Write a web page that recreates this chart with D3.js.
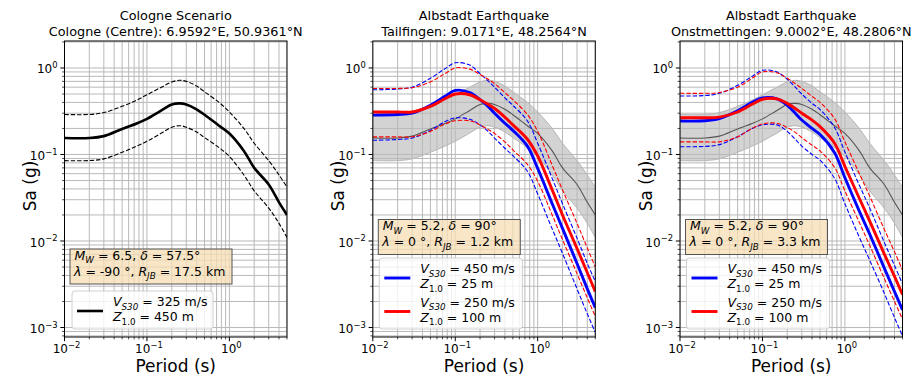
<!DOCTYPE html>
<html><head><meta charset="utf-8">
<script src="https://cdn.jsdelivr.net/npm/d3@7"></script>
<style>body{margin:0;background:#fff}svg{display:block}text{font-family:"DejaVu Sans",sans-serif;fill:#000}</style>
</head><body><svg id="c" width="917" height="379"></svg>
<script>
// ---------------- data ----------------
const periods = [0.01, 0.02, 0.03, 0.05, 0.075, 0.1, 0.15, 0.2, 0.25, 0.3, 0.4, 0.5, 0.75, 1, 1.5, 2, 3, 4, 5];

// Cologne scenario (black in panel 1, grey reference band in panels 2 and 3)
const cologneMed = [0.155, 0.155, 0.163, 0.197, 0.228, 0.258, 0.323, 0.378, 0.39, 0.378, 0.333, 0.288, 0.215, 0.175, 0.11, 0.07, 0.045, 0.028, 0.02];
const cologneUp  = [0.29, 0.29, 0.305, 0.36, 0.425, 0.49, 0.60, 0.69, 0.72, 0.70, 0.62, 0.53, 0.40, 0.31, 0.20, 0.135, 0.085, 0.058, 0.042];
const cologneLo  = [0.085, 0.085, 0.089, 0.106, 0.125, 0.142, 0.177, 0.207, 0.215, 0.207, 0.182, 0.157, 0.12, 0.095, 0.058, 0.038, 0.024, 0.016, 0.011];

// Tailfingen
const tfBlueMed = [0.285, 0.29, 0.30, 0.37, 0.47, 0.55, 0.52, 0.43, 0.36, 0.30, 0.23, 0.19, 0.125, 0.069, 0.027, 0.014, 0.0055, 0.0028, 0.0017];
const tfBlueUp  = [0.56, 0.57, 0.60, 0.76, 0.98, 1.15, 1.08, 0.86, 0.71, 0.60, 0.45, 0.37, 0.245, 0.135, 0.053, 0.027, 0.0108, 0.0055, 0.0034];
const tfBlueLo  = [0.146, 0.149, 0.155, 0.19, 0.24, 0.265, 0.255, 0.22, 0.185, 0.155, 0.118, 0.097, 0.064, 0.035, 0.0138, 0.0072, 0.0028, 0.00144, 0.00088];
const tfRedMed  = [0.31, 0.31, 0.31, 0.36, 0.44, 0.50, 0.49, 0.43, 0.38, 0.34, 0.27, 0.22, 0.15, 0.096, 0.039, 0.020, 0.0082, 0.0043, 0.0026];
const tfRedUp   = [0.58, 0.58, 0.59, 0.69, 0.86, 1.0, 0.97, 0.84, 0.74, 0.66, 0.52, 0.43, 0.29, 0.185, 0.075, 0.039, 0.016, 0.0083, 0.005];
const tfRedLo   = [0.16, 0.16, 0.16, 0.185, 0.225, 0.245, 0.245, 0.22, 0.195, 0.175, 0.14, 0.113, 0.077, 0.049, 0.02, 0.0104, 0.0042, 0.0022, 0.00134];

// Onstmettingen
const onBlueMed = [0.244, 0.245, 0.26, 0.32, 0.40, 0.45, 0.44, 0.37, 0.30, 0.25, 0.20, 0.17, 0.105, 0.054, 0.022, 0.012, 0.0049, 0.0026, 0.0016];
const onBlueUp  = [0.475, 0.48, 0.51, 0.63, 0.80, 0.94, 0.90, 0.74, 0.60, 0.50, 0.39, 0.33, 0.205, 0.107, 0.044, 0.024, 0.0097, 0.0052, 0.0032];
const onBlueLo  = [0.123, 0.124, 0.13, 0.16, 0.20, 0.22, 0.22, 0.185, 0.15, 0.125, 0.10, 0.086, 0.053, 0.027, 0.011, 0.006, 0.0025, 0.0013, 0.0008];
const onRedMed  = [0.266, 0.266, 0.27, 0.31, 0.38, 0.435, 0.44, 0.39, 0.34, 0.30, 0.25, 0.21, 0.135, 0.073, 0.031, 0.017, 0.0071, 0.0039, 0.0024];
const onRedUp   = [0.51, 0.51, 0.52, 0.60, 0.76, 0.90, 0.88, 0.76, 0.66, 0.58, 0.47, 0.40, 0.26, 0.14, 0.06, 0.033, 0.0137, 0.0075, 0.0046];
const onRedLo   = [0.14, 0.14, 0.14, 0.16, 0.20, 0.225, 0.23, 0.205, 0.18, 0.157, 0.128, 0.11, 0.071, 0.038, 0.0163, 0.0089, 0.0037, 0.002, 0.00125];

const xTickVals = [0.01, 0.1, 1];
const xTickExps = ["−2", "−1", "0"];
const yTickVals = [0.001, 0.01, 0.1, 1];
const yTickExps = ["−3", "−2", "−1", "0"];

const titles = [
  ["Cologne Scenario", "Cologne (Centre): 6.9592°E, 50.9361°N"],
  ["Albstadt Earthquake", "Tailfingen: 9.0171°E, 48.2564°N"],
  ["Albstadt Earthquake", "Onstmettingen: 9.0002°E, 48.2806°N"]
];
const scenarioText = [
  { mw: "6.5", dip: "57.5", rake: "-90", rjb: "17.5" },
  { mw: "5.2", dip: "90", rake: "0", rjb: "1.2" },
  { mw: "5.2", dip: "90", rake: "0", rjb: "3.3" }
];
const siteLabels = [
  [{ vs: "325", z: "450" }],
  [{ vs: "450", z: "25" }, { vs: "250", z: "100" }],
  [{ vs: "450", z: "25" }, { vs: "250", z: "100" }]
];

// ---------------- layout ----------------
const svg = d3.select("#c");
const plotTop = 41, plotBottom = 337, plotW = 222.5;
const panelLeft = [64.5, 372.8, 680];
const yScale = d3.scaleLog().domain([7.77e-4, 2.05]).range([plotBottom, plotTop]);
const GRID = "#b9b9b9";

function rich(g, x, y, segs, size, anchor) {
  const t = g.append("text").attr("x", x).attr("y", y).attr("font-size", size)
    .attr("text-anchor", anchor || "start");
  let off = 0;
  segs.forEach(s => {
    const sp = t.append("tspan").text(s.t);
    let target = 0;
    if (s.sub) target = size * 0.28;
    if (s.sup) target = -size * 0.42;
    if (target !== off) { sp.attr("dy", target - off); off = target; }
    if (s.sub || s.sup) sp.attr("font-size", size * 0.7);
    if (s.i) sp.attr("font-style", "italic");
  });
  return t;
}

function minorVals(lo, hi) {
  const out = [];
  for (let e = -4; e <= 1; e++) for (let m = 1; m <= 9; m++) {
    const v = m * Math.pow(10, e);
    if (v >= lo * 0.9999 && v <= hi * 1.0001) out.push(v);
  }
  return out;
}

panelLeft.forEach((x0, pi) => {
  const xScale = d3.scaleLog().domain([0.01, 5]).range([x0, x0 + plotW]);
  const g = svg.append("g");
  const clipId = "clip" + pi;
  svg.append("clipPath").attr("id", clipId).append("rect")
    .attr("x", x0).attr("y", plotTop).attr("width", plotW).attr("height", plotBottom - plotTop);
  const plot = g.append("g").attr("clip-path", `url(#${clipId})`);

  const curve = d3.curveCatmullRom.alpha(0.5);
  const line = arr => d3.line().x((d, i) => xScale(periods[i])).y(d => yScale(d)).curve(curve)(arr);

  // grey reference band (panels 2, 3)
  if (pi > 0) {
    const area = d3.area().x((d, i) => xScale(periods[i]))
      .y0((d, i) => yScale(cologneLo[i])).y1(d => yScale(d)).curve(curve);
    plot.append("path").attr("d", area(cologneUp)).attr("fill", "#d3d3d3")
      .attr("stroke", "#a8a8a8").attr("stroke-width", 0.8);
  }

  // grid
  const xs = minorVals(0.01, 5), ys = minorVals(7.77e-4, 2.05);
  xs.forEach(v => plot.append("line").attr("x1", xScale(v)).attr("x2", xScale(v))
    .attr("y1", plotTop).attr("y2", plotBottom).attr("stroke", GRID).attr("stroke-width", 1));
  ys.forEach(v => plot.append("line").attr("y1", yScale(v)).attr("y2", yScale(v))
    .attr("x1", x0).attr("x2", x0 + plotW).attr("stroke", GRID).attr("stroke-width", 1));

  // curves
  const dash = "4.4,1.9";
  if (pi === 0) {
    plot.append("path").attr("d", line(cologneUp)).attr("fill", "none").attr("stroke", "#000").attr("stroke-width", 1.1).attr("stroke-dasharray", dash);
    plot.append("path").attr("d", line(cologneLo)).attr("fill", "none").attr("stroke", "#000").attr("stroke-width", 1.1).attr("stroke-dasharray", dash);
    plot.append("path").attr("d", line(cologneMed)).attr("fill", "none").attr("stroke", "#000").attr("stroke-width", 2.6);
  } else {
    plot.append("path").attr("d", line(cologneMed)).attr("fill", "none").attr("stroke", "#555").attr("stroke-width", 1.1);
    const S = pi === 1
      ? { bm: tfBlueMed, bu: tfBlueUp, bl: tfBlueLo, rm: tfRedMed, ru: tfRedUp, rl: tfRedLo }
      : { bm: onBlueMed, bu: onBlueUp, bl: onBlueLo, rm: onRedMed, ru: onRedUp, rl: onRedLo };
    [[S.bu, "#0000ff"], [S.bl, "#0000ff"], [S.ru, "#ff0000"], [S.rl, "#ff0000"]].forEach(([a, c]) =>
      plot.append("path").attr("d", line(a)).attr("fill", "none").attr("stroke", c).attr("stroke-width", 1.1).attr("stroke-dasharray", dash));
    plot.append("path").attr("d", line(S.bm)).attr("fill", "none").attr("stroke", "#0000ff").attr("stroke-width", 2.9);
    plot.append("path").attr("d", line(S.rm)).attr("fill", "none").attr("stroke", "#ff0000").attr("stroke-width", 2.9);
  }

  // spines
  g.append("rect").attr("x", x0).attr("y", plotTop).attr("width", plotW).attr("height", plotBottom - plotTop)
    .attr("fill", "none").attr("stroke", "#000").attr("stroke-width", 1);

  // ticks
  xs.forEach(v => {
    const major = xTickVals.includes(v);
    g.append("line").attr("x1", xScale(v)).attr("x2", xScale(v)).attr("y1", plotBottom).attr("y2", plotBottom + (major ? 4.2 : 2.4))
      .attr("stroke", "#000").attr("stroke-width", major ? 1 : 0.7);
  });
  ys.forEach(v => {
    const major = yTickVals.some(t => Math.abs(t - v) / t < 1e-6);
    g.append("line").attr("y1", yScale(v)).attr("y2", yScale(v)).attr("x1", x0).attr("x2", x0 - (major ? 4.2 : 2.4))
      .attr("stroke", "#000").attr("stroke-width", major ? 1 : 0.7);
  });
  xTickVals.forEach((v, i) => {
    rich(g, xScale(v) + 2, 353, [{ t: "10" }, { t: xTickExps[i], sup: true }], 12, "middle");
  });
  yTickVals.forEach((v, i) => {
    rich(g, x0 - 7, yScale(v) + 5.5, [{ t: "10" }, { t: yTickExps[i], sup: true }], 12, "end");
  });

  // axis labels
  g.append("text").attr("x", x0 + plotW / 2).attr("y", 372).attr("text-anchor", "middle").attr("font-size", 17).text("Period (s)");
  g.append("text").attr("transform", `translate(${x0 - 28.5},${(plotTop + plotBottom) / 2 - 3}) rotate(-90)`)
    .attr("text-anchor", "middle").attr("font-size", 17).text("Sa (g)");

  // title
  g.append("text").attr("x", x0 + plotW / 2).attr("y", 20).attr("text-anchor", "middle").attr("font-size", 12.8).text(titles[pi][0]);
  g.append("text").attr("x", x0 + plotW / 2).attr("y", 35.5).attr("text-anchor", "middle").attr("font-size", 12.8).text(titles[pi][1]);

  // scenario box
  const sc = scenarioText[pi];
  const boxTop = pi === 0 ? 249 : 219.5, boxLeft = x0 + 5.5;
  const boxW = pi === 0 ? 162 : 142;
  g.append("rect").attr("x", boxLeft).attr("y", boxTop).attr("width", boxW).attr("height", 35)
    .attr("fill", "#f5deb3").attr("fill-opacity", 0.75).attr("stroke", "#555").attr("stroke-width", 1);
  const fs = 12.5;
  rich(g, boxLeft + 4.5, boxTop + 10.5, [{ t: "M", i: true }, { t: "W", i: true, sub: true }, { t: " = " + sc.mw + ", " },
    { t: "δ", i: true }, { t: " = " + sc.dip + "°" }], fs);
  rich(g, boxLeft + 4, boxTop + 26.5, [{ t: "λ", i: true }, { t: " = " + sc.rake + " °, " },
    { t: "R", i: true }, { t: "JB", i: true, sub: true }, { t: " = " + sc.rjb + " km" }], fs);

  // legend
  const labs = siteLabels[pi];
  const legTop = pi === 0 ? 291 : 258;
  const legH = pi === 0 ? 38 : 71;
  const legLeft = x0 + (pi === 0 ? 7.5 : 6.5);
  const legW = pi === 0 ? 141 : 143;
  g.append("rect").attr("x", legLeft).attr("y", legTop).attr("width", legW).attr("height", legH).attr("rx", 3)
    .attr("fill", "#fff").attr("fill-opacity", 0.8).attr("stroke", "#d0d0d0").attr("stroke-width", 1);
  const colors = pi === 0 ? ["#000"] : ["#0000ff", "#ff0000"];
  labs.forEach((lb, k) => {
    const base = legTop + 15 + k * 33.5;
    g.append("line").attr("x1", legLeft + 5).attr("x2", legLeft + 31).attr("y1", base + 5).attr("y2", base + 5)
      .attr("stroke", colors[k]).attr("stroke-width", pi === 0 ? 2.6 : 2.9);
    rich(g, legLeft + 41, base, [{ t: "V", i: true }, { t: "S30", i: true, sub: true }, { t: " = " + lb.vs + " m/s" }], fs);
    rich(g, legLeft + 41, base + 15, [{ t: "Z", i: true }, { t: "1.0", sub: true }, { t: " = " + lb.z + " m" }], fs);
  });
});
</script></body></html>
